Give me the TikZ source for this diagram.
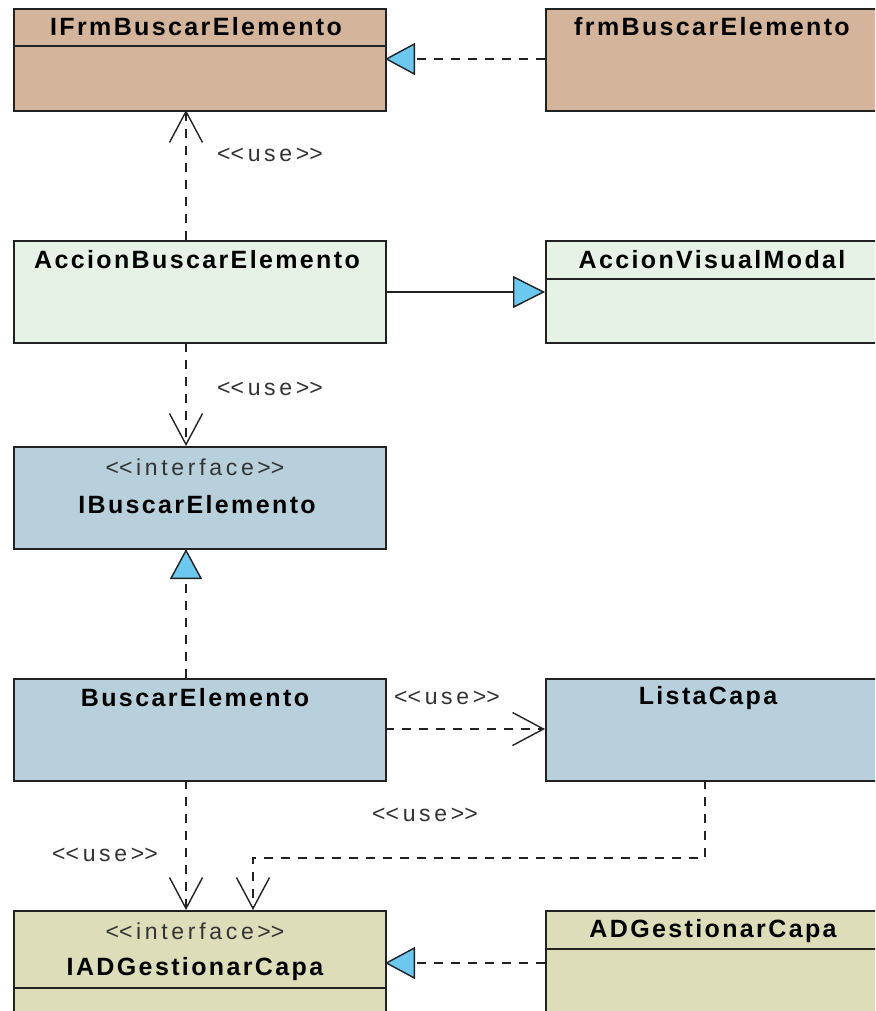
\documentclass[tikz,border=0pt]{standalone}
\usepackage{fontspec}
\setmainfont{Liberation Sans}
\newfontfamily\ttlfont{Liberation Sans}[LetterSpace=9.5]
\newfontfamily\sterfont{Liberation Sans}[LetterSpace=16]
\usetikzlibrary{arrows.meta}
\definecolor{cTan}{HTML}{D5B49C}
\definecolor{cGreen}{HTML}{E5F2E5}
\definecolor{cBlue}{HTML}{B7D0DB}
\definecolor{cKhaki}{HTML}{DEDDBA}
\definecolor{cTri}{HTML}{6CC8EF}
\definecolor{cLine}{HTML}{222222}
\newcommand{\stereo}[1]{<\kern0pt<#1>\kern0pt>}
\tikzset{
  classbox/.style={draw=cLine, line width=1.6pt, anchor=north west, minimum width=372pt, minimum height=102pt, inner sep=0pt},
  ttl/.style={font=\fontsize{25}{29}\ttlfont\bfseries, text=black, inner sep=0pt},
  ster/.style={font=\fontsize{23}{27}\sterfont, text=black!80, inner sep=0pt},
  divline/.style={line width=1.6pt, draw=cLine},
  usedep/.style={line width=1.4pt, draw=cLine, dash pattern=on 9pt off 8pt, -{Straight Barb[length=31pt, width=33pt, line width=1.4pt]}},
  realiz/.style={line width=1.4pt, draw=cLine, dash pattern=on 9pt off 8pt, -{Triangle[length=30pt, width=32pt, fill=cTri, line width=1.4pt]}},
  gener/.style={line width=1.4pt, draw=cLine, -{Triangle[length=32pt, width=32pt, fill=cTri, line width=1.4pt]}}
}
\begin{document}
\begin{tikzpicture}[x=1pt, y=-1pt]
\useasboundingbox (0,0) rectangle (875,1011);
\clip (0,0) rectangle (875,1011);
\fill[white] (0,0) rectangle (875,1011);

% boxes
\node[classbox, fill=cTan] (ifrm) at (13,8) {};
\node[classbox, fill=cTan] (frm) at (545,8) {};
\node[classbox, fill=cGreen] (accb) at (13,240) {};
\node[classbox, fill=cGreen] (accv) at (545,240) {};
\node[classbox, fill=cBlue] (ibus) at (13,446) {};
\node[classbox, fill=cBlue] (bus) at (13,678) {};
\node[classbox, fill=cBlue] (lista) at (545,678) {};
\node[classbox, fill=cKhaki] (iad) at (13,910) {};
\node[classbox, fill=cKhaki] (adg) at (545,910) {};

% dividers
\draw[divline] (13,46) -- (385,46);
\draw[divline] (545,279) -- (917,279);
\draw[divline] (545,949) -- (917,949);
\draw[divline] (13,988) -- (385,988);

% titles
\node[ttl] (t1) at (196,27) {IFrmBuscarElemento};
\node[ttl] (t2) at (712,27) {frmBuscarElemento};
\node[ttl] (t3) at (197,260) {AccionBuscarElemento};
\node[ttl] (t4) at (712,260) {AccionVisualModal};
\node[ster] (s5) at (195,467) {\stereo{interface}};
\node[ttl] (t5) at (197,505) {IBuscarElemento};
\node[ttl] (t6) at (195,698) {BuscarElemento};
\node[ttl] (t7) at (708,698) {ListaCapa};
\node[ster] (s8) at (195,931) {\stereo{interface}};
\node[ttl] (t8) at (195,969) {IADGestionarCapa};
\node[ttl] (t9) at (713,931) {ADGestionarCapa};

% connectors
\coordinate (frmL) at (545,59);
\coordinate (ifrmR) at (385,59);
\draw[realiz] (frmL) -- (ifrmR);

\coordinate (accbT) at (186,240);
\coordinate (ifrmB) at (186,110);
\draw[usedep] (accbT) -- (ifrmB);
\node[ster] (u1) at (270,155) {\stereo{use}};

\coordinate (accbR) at (385,292);
\coordinate (accvL) at (545,292);
\draw[gener] (accbR) -- (accvL);

\coordinate (accbB) at (186,343);
\coordinate (ibusT) at (186,446);
\draw[usedep] (accbB) -- (ibusT);
\node[ster] (u2) at (270,389) {\stereo{use}};

\coordinate (busT) at (186,678);
\coordinate (ibusB) at (186,549);
\draw[realiz] (busT) -- (ibusB);

\coordinate (busR) at (385,729);
\coordinate (listaL) at (545,729);
\draw[usedep] (busR) -- (listaL);
\node[ster] (u3) at (447,698) {\stereo{use}};

\coordinate (busB) at (186,780);
\coordinate (iadT1) at (186,910);
\draw[usedep] (busB) -- (iadT1);
\node[ster] (u4) at (105,855) {\stereo{use}};

\coordinate (listaB) at (705,780);
\coordinate (iadT2) at (253,910);
\draw[usedep] (listaB) -- (705,858) -- (253,858) -- (iadT2);
\node[ster] (u5) at (425,815) {\stereo{use}};

\coordinate (adgL) at (545,963);
\coordinate (iadR) at (385,963);
\draw[realiz] (adgL) -- (iadR);
\end{tikzpicture}
\end{document}
